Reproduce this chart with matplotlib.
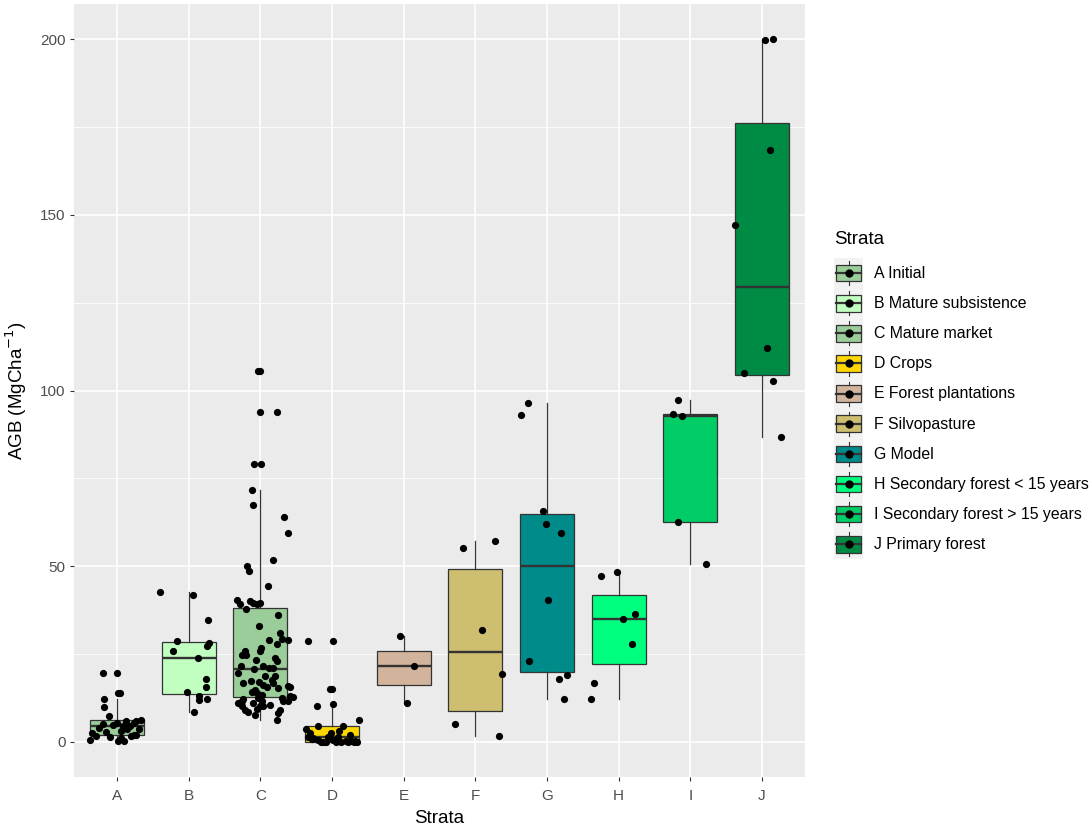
import numpy as np
import matplotlib
matplotlib.use("Agg")
import matplotlib.pyplot as plt
from matplotlib.patches import Patch, Rectangle
from matplotlib.lines import Line2D
from matplotlib.legend_handler import HandlerBase
from matplotlib.ticker import MultipleLocator

plt.rcParams['font.family'] = ['Liberation Sans', 'DejaVu Sans']

# strata codes, legend labels and fills
strata = ['A', 'B', 'C', 'D', 'E', 'F', 'G', 'H', 'I', 'J']
labels = ['A Initial', 'B Mature subsistence', 'C Mature market', 'D Crops',
          'E Forest plantations', 'F Silvopasture', 'G Model',
          'H Secondary forest < 15 years', 'I Secondary forest > 15 years',
          'J Primary forest']
fills = ['#9BCD9B', '#C1FFC1', '#9BCD9B', '#FFD700', '#D2B49C', '#CDBE70',
         '#008B8B', '#00FF7F', '#00CD66', '#008B45']

# AGB values, with the horizontal jitter of each point
a_vals = [19.7, 19.7, 13.8, 13.8, 12.25, 9.97, 7.4, 6.3, 5.5, 5.3, 5.1, 4.4, 4.4,
          3.7, 3.6, 2.9, 2.65, 6.0, 5.8, 4.8, 4.0, 3.2, 2.0, 2.0, 0.57, 0.28, 0.28,
          1.6, 1.2, 1.8, 1.5]
a_jit = [-0.2, 0.0, 0.01, 0.04, -0.18, -0.18, -0.11, 0.34, 0.0, 0.23, -0.2, 0.09, 0.18,
         0.31, 0.14, -0.16, -0.35, 0.27, 0.12, -0.05, -0.25, 0.06, 0.23, 0.27, -0.38, 0.01, 0.1,
         -0.3, 0.05, 0.2, -0.1]

b_vals = [42.7, 41.7, 34.8, 28.6, 26.0, 27.4, 28.1, 24.0, 17.9, 15.5, 14.2, 13.1,
          12.0, 12.3, 8.4]
b_jit = [-0.4, 0.06, 0.27, -0.16, -0.22, 0.26, 0.28, 0.13, 0.24, 0.24, -0.03, 0.15,
         0.15, 0.26, 0.07]

c_vals = [105.7, 105.7, 93.8, 93.8, 79.2, 79.2, 71.8, 67.3, 63.9, 59.5, 51.7, 50.1,
          48.6, 44.3,
          40.5, 39.2, 40.0, 39.5, 39.2, 39.5, 37.9, 36.0, 33.0,
          28.9, 29.3, 28.9, 27.9, 26.7, 25.9, 24.8, 24.8, 23.4, 23.8, 22.9,
          21.5, 21.5, 21.0, 20.9, 19.7, 20.6, 18.8, 18.8,
          16.7, 17.2, 17.0, 17.7, 16.7, 14.8, 16.2, 15.6, 15.3, 16.0, 15.5,
          13.9, 13.4, 13.1, 12.7, 12.4, 11.5, 12.4, 12.2, 11.0, 11.0, 10.1, 10.1,
          11.5, 11.5, 9.1, 8.6, 9.3, 10.1, 9.1, 8.2, 7.7, 6.3, 11.5,
          31.0, 26.0, 14.3, 10.6]
c_jit = [-0.04, 0.0, 0.0, 0.23, -0.09, 0.01, -0.12, -0.1, 0.33, 0.39, 0.17, -0.19,
         -0.16, 0.1,
         -0.32, -0.28, -0.15, -0.1, -0.05, -0.01, -0.2, 0.24, -0.015,
         0.12, 0.3, 0.39, 0.23, 0.01, -0.01, -0.26, -0.2, -0.06, 0.2, 0.23,
         -0.27, 0.03, 0.12, 0.18, -0.31, -0.085, 0.064, 0.2,
         -0.24, -0.135, -0.015, 0.16, 0.18, -0.075, 0.04, 0.09, 0.25, 0.39, 0.42,
         -0.05, 0.02, 0.41, 0.46, -0.03, 0.02, 0.3, -0.24, -0.31, -0.1, 0.04, -0.26,
         0.32, 0.39, -0.22, -0.17, -0.05, 0.0, 0.27, 0.25, -0.07, 0.23, -0.26,
         0.28, -0.22, -0.12, 0.14]

d_vals = [28.6, 28.6, 15.1, 15.1, 10.3, 10.7, 6.3, 4.5, 4.4, 3.6, 3.0, 2.6, 2.5,
          2.0, 1.5, 1.5, 1.5, 1.0, 0.8, 0.57, 0.57, 0.3, 0.1, 0.1, 0.05, 0.05,
          0.05, 0.0, 0.0, 0.0, 0.0, 0.0]
d_jit = [-0.33, 0.01, -0.03, 0.0, -0.21, 0.01, 0.37, 0.15, -0.2, -0.36, 0.1, -0.01, -0.31,
         0.25, -0.33, -0.05, 0.085, -0.26, -0.28, -0.19, 0.02, 0.2, 0.27, 0.32, -0.12, 0.13,
         0.3, -0.08, -0.15, 0.05, 0.22, 0.35]

e_vals = [30.0, 21.5, 11.0]
e_jit = [-0.05, 0.14, 0.05]

f_vals = [55.1, 57.3, 31.9, 19.3, 5.1, 1.7]
f_jit = [-0.17, 0.27, 0.09, 0.37, -0.28, 0.33]

g_vals = [96.5, 93.0, 65.8, 62.1, 59.5, 40.5, 23.0, 18.9, 18.0, 12.2]
g_jit = [-0.27, -0.36, -0.05, -0.015, 0.19, 0.02, -0.25, 0.28, 0.17, 0.23]

h_vals = [48.3, 47.1, 36.4, 34.9, 27.8, 16.7, 12.2]
h_jit = [-0.03, -0.25, 0.23, 0.065, 0.19, -0.34, -0.39]

i_vals = [97.4, 93.4, 92.7, 62.7, 50.7]
i_jit = [-0.17, -0.24, -0.11, -0.17, 0.22]

j_vals = [199.7, 200.0, 168.4, 147.1, 112.1, 105.0, 102.8, 86.8]
j_jit = [0.035, 0.15, 0.11, -0.38, 0.07, -0.25, 0.15, 0.26]

values = [a_vals, b_vals, c_vals, d_vals, e_vals, f_vals, g_vals, h_vals, i_vals, j_vals]
jitter = [a_jit, b_jit, c_jit, d_jit, e_jit, f_jit, g_jit, h_jit, i_jit, j_jit]

edge = '#333333'


class BoxKey(HandlerBase):
    # ggplot-like legend key: grey square, small box, median and dot
    def create_artists(self, legend, orig_handle, xdescent, ydescent,
                       width, height, fontsize, trans):
        x0, y0 = -xdescent, -ydescent
        bg = Rectangle((x0, y0), width, height, facecolor='#F2F2F2',
                       edgecolor='none', transform=trans)
        bw, bh = width * 0.84, height * 0.55
        bx, by = x0 + (width - bw) / 2, y0 + (height - bh) / 2
        box = Rectangle((bx, by), bw, bh, facecolor=orig_handle.get_facecolor(),
                        edgecolor=edge, lw=0.9, transform=trans)
        cx = x0 + width / 2
        w1 = Line2D([cx, cx], [y0 + height * 0.1, by], color=edge, lw=0.8, transform=trans)
        w2 = Line2D([cx, cx], [by + bh, y0 + height * 0.9], color=edge, lw=0.8, transform=trans)
        med = Line2D([bx, bx + bw], [by + bh / 2] * 2, color=edge, lw=1.6, transform=trans)
        dot = Line2D([cx], [by + bh / 2], marker='o', ms=5, color='black',
                     ls='none', transform=trans)
        return [bg, box, w1, w2, med, dot]


fig = plt.figure(figsize=(10.92, 8.27), dpi=100)
ax = fig.add_axes([0.0678, 0.0605, 0.6694, 0.9345])
ax.set_facecolor('#EBEBEB')

pos = np.arange(1, len(strata) + 1)
bp = ax.boxplot(values, positions=pos, widths=0.75, patch_artist=True,
                showfliers=False, showcaps=False, whis=1.5,
                boxprops=dict(edgecolor=edge, lw=0.9),
                whiskerprops=dict(color=edge, lw=0.9),
                medianprops=dict(color=edge, lw=1.7), zorder=2)
for patch, c in zip(bp['boxes'], fills):
    patch.set_facecolor(c)

for p, vals, jit in zip(pos, values, jitter):
    ax.scatter(p + np.array(jit), vals, s=27, color='black', linewidths=0, zorder=3)

ax.set_xlim(0.4, 10.6)
ax.set_ylim(-10, 210)
ax.set_xticks(pos)
ax.set_xticklabels(strata)
ax.yaxis.set_major_locator(MultipleLocator(50))
ax.yaxis.set_minor_locator(MultipleLocator(25))
ax.grid(which='major', color='white', lw=1.2)
ax.grid(which='minor', axis='y', color='white', lw=0.6)
ax.set_axisbelow(True)
for s in ax.spines.values():
    s.set_visible(False)
ax.tick_params(which='major', length=3, width=0.8, color=edge,
               labelsize=11, labelcolor='#4D4D4D')
ax.tick_params(axis='x', which='major', pad=6)
ax.tick_params(axis='y', which='major', pad=3)
ax.tick_params(which='minor', length=0)

ax.set_xlabel('Strata', fontsize=13.5, labelpad=5)
ax.set_ylabel('AGB (MgCha$^{-1}$)', fontsize=13.5, labelpad=8)

handles = [Patch(facecolor=c, label=l) for c, l in zip(fills, labels)]
leg = ax.legend(handles=handles, handler_map={Patch: BoxKey()}, title='Strata',
                loc='center left', bbox_to_anchor=(0.7637, 0.522),
                bbox_transform=fig.transFigure, frameon=False, fontsize=11.4,
                title_fontsize=13.5, handlelength=1.85, handleheight=2.55,
                labelspacing=0.0, handletextpad=0.65, borderpad=0,
                borderaxespad=0, alignment='left')
leg._legend_box.sep = 7

fig.savefig('out.png', dpi=100, facecolor='white')
